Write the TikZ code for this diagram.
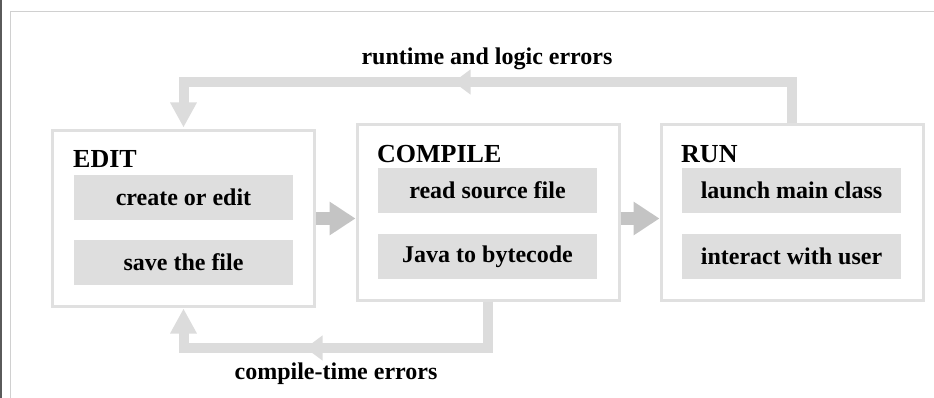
\documentclass[tikz,border=0pt]{standalone}
\usepackage{fontspec}
\setmainfont{Liberation Serif}
\usetikzlibrary{arrows.meta,decorations.markings}
\definecolor{framegray}{HTML}{D0D0D0}
\definecolor{stripgray}{HTML}{5A5A5A}
\definecolor{boxline}{HTML}{E0E0E0}
\definecolor{stepfill}{HTML}{DEDEDE}
\definecolor{loopgray}{HTML}{DCDCDC}
\definecolor{fwdgray}{HTML}{C4C4C4}
\tikzset{
  stage/.style={draw=boxline, line width=3pt, fill=white, minimum width=262pt,
    minimum height=175pt, inner sep=0pt},
  stepbox/.style={fill=stepfill, minimum width=219pt, minimum height=45pt,
    inner sep=0pt, font=\fontsize{24}{28}\selectfont\bfseries},
  title/.style={anchor=base west, inner sep=0pt, font=\fontsize{26}{30}\selectfont\bfseries},
  looplabel/.style={inner sep=0pt, font=\fontsize{24}{28}\selectfont\bfseries},
  loop/.style={draw=loopgray, line width=10pt,
    -{Triangle[width=25pt,length=25pt]}},
  midtip/.style={postaction={decorate, decoration={markings,
    mark=at position #1 with {\arrow{Triangle[width=24pt,length=17pt]}}}}},
  forward/.style={draw=fwdgray, line width=13pt,
    -{Triangle[width=32pt,length=26pt]}}
}
\begin{document}
\begin{tikzpicture}[x=1pt,y=-1pt]
  \useasboundingbox (0,0) rectangle (934,398);
  % page frame
  \fill[stripgray] (0,0) rectangle (1.5,398);
  \draw[framegray, line width=1.5pt] (10.5,398) -- (10.5,11.5) -- (934,11.5);

  % stages
  \node[stage] (edit) at (183.5,218.5) {};
  \node[stage] (compile) at (488,212.5) {};
  \node[stage] (run) at (792,212.5) {};

  \node[title] (editT) at (73,168) {EDIT};
  \node[title] (compileT) at (377,163) {COMPILE};
  \node[title] (runT) at (681,163) {RUN};

  \node[stepbox] (create) at (183.5,197.5) {create or edit};
  \node[stepbox] (save) at (183.5,262.5) {save the file};
  \node[stepbox] (read) at (487.5,190.5) {read source file};
  \node[stepbox] (java) at (487.5,256.5) {Java to bytecode};
  \node[stepbox] (launch) at (791.5,190.5) {launch main class};
  \node[stepbox] (interact) at (791.5,256.5) {interact with user};

  % forward flow
  \draw[forward] (edit.east) -- (edit.east -| compile.west);
  \draw[forward] (compile.east |- edit.east) -- (run.west |- edit.east);

  % feedback loops
  \coordinate (topturn) at (792,82);
  \coordinate (botturn) at (488,348);
  \draw[loop, midtip=380pt, shorten >=2pt] (run.north) -- (topturn) -| (edit.north);
  \draw[loop, midtip=229pt, shorten >=1pt] (compile.south) -- (botturn) -| (edit.south);

  \node[looplabel] (rtl) at (487,59) {runtime and logic errors};
  \node[looplabel] (cte) at (336,374) {compile-time errors};
\end{tikzpicture}
\end{document}
